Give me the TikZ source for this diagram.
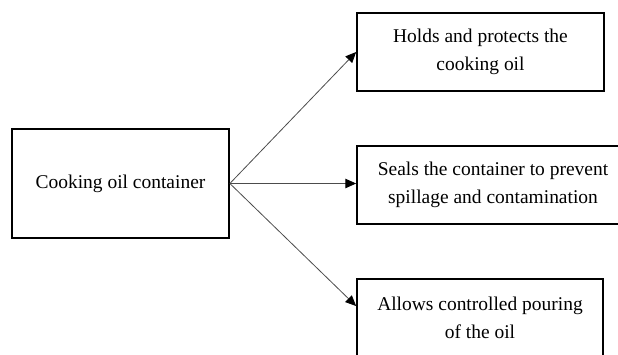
\documentclass[tikz,border=0pt]{standalone}
\usepackage{fontspec}
\setmainfont{Liberation Serif}
\usetikzlibrary{arrows.meta,calc}
\begin{document}
\begin{tikzpicture}[x=0.75pt,y=-0.75pt,
  box/.style={draw=black,line width=1.3pt,fill=white,align=center,inner sep=0pt,font=\fontsize{14.6}{20.5}\selectfont},
  conn/.style={draw=black!70,line width=0.6pt,-{Triangle[length=8pt,width=7pt,color=black]}}]
\useasboundingbox (0,0) rectangle (618,354);
\node[box,minimum width=217*0.75pt,minimum height=109*0.75pt] (src) at (120.5,183.5) {Cooking oil container};
\node[box,minimum width=247*0.75pt,minimum height=78*0.75pt] (top) at (480.5,52) {Holds and protects the\\cooking oil};
\node[box,minimum width=272*0.75pt,minimum height=78*0.75pt] (mid) at (493,185) {Seals the container to prevent\\spillage and contamination};
\node[box,minimum width=246*0.75pt,minimum height=78*0.75pt] (bot) at (480,318) {Allows controlled pouring\\of the oil};
\coordinate (botin) at ($(bot.north west)!0.35!(bot.south west)$);
\draw[conn] (src.east) -- (top.west);
\draw[conn] (src.east) -- (src.east -| mid.west);
\draw[conn] (src.east) -- (botin);
\end{tikzpicture}
\end{document}
